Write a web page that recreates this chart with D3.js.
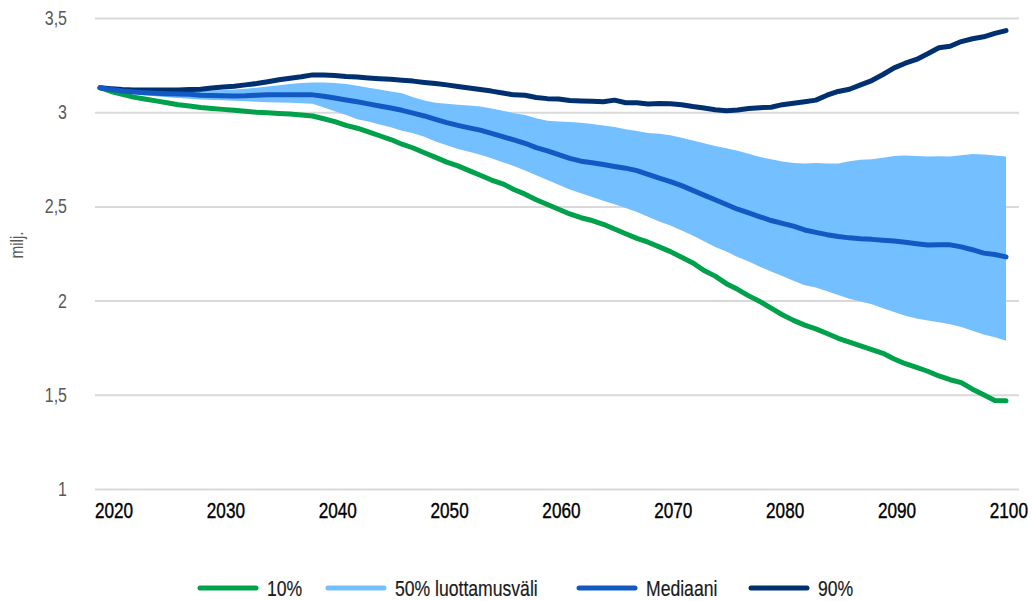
<!DOCTYPE html>
<html>
<head>
<meta charset="utf-8">
<script src="https://cdn.jsdelivr.net/npm/d3@7"></script>
<style>
  body { margin: 0; background: #fff; }
  svg { display: block; font-family: "Liberation Sans Narrow", "Liberation Sans", Arial, sans-serif; }
</style>
</head>
<body>
<svg id="chart" width="1035" height="601"></svg>
<script>
// vuodet 2019-2100
var years = d3.range(2019, 2101);

var p10 = [3.13, 3.11, 3.095, 3.08, 3.07, 3.06, 3.05, 3.04, 3.033, 3.025,
  3.02, 3.015, 3.01, 3.005, 3.0, 2.997, 2.993, 2.99, 2.985, 2.98,
  2.965, 2.95, 2.93, 2.915, 2.895, 2.875, 2.855, 2.83, 2.81, 2.785,
  2.76, 2.735, 2.715, 2.69, 2.665, 2.64, 2.62, 2.59, 2.565, 2.535,
  2.51, 2.485, 2.46, 2.44, 2.425, 2.405, 2.38, 2.355, 2.33, 2.31,
  2.285, 2.26, 2.23, 2.2, 2.16, 2.13, 2.09, 2.06, 2.025, 1.995,
  1.96, 1.925, 1.895, 1.87, 1.85, 1.825, 1.8, 1.78, 1.76, 1.74,
  1.72, 1.69, 1.665, 1.645, 1.625, 1.6, 1.58, 1.565, 1.53, 1.5,
  1.47, 1.468];

var p25 = [3.13, 3.115, 3.105, 3.096, 3.09, 3.085, 3.08, 3.075, 3.072, 3.068,
  3.065, 3.063, 3.061, 3.058, 3.055, 3.053, 3.051, 3.05, 3.048, 3.045,
  3.025, 3.005, 2.985, 2.963, 2.95, 2.935, 2.92, 2.902, 2.888, 2.87,
  2.845, 2.825, 2.805, 2.79, 2.774, 2.755, 2.735, 2.715, 2.69, 2.665,
  2.64, 2.615, 2.59, 2.57, 2.55, 2.53, 2.512, 2.492, 2.47, 2.445,
  2.42, 2.398, 2.372, 2.345, 2.315, 2.285, 2.26, 2.232, 2.208, 2.18,
  2.155, 2.13, 2.105, 2.082, 2.07, 2.05, 2.03, 2.01, 1.995, 1.98,
  1.96, 1.94, 1.92, 1.905, 1.895, 1.885, 1.875, 1.86, 1.84, 1.82,
  1.805, 1.787];

var p75 = [3.13, 3.125, 3.12, 3.116, 3.113, 3.111, 3.11, 3.11, 3.11, 3.112,
  3.115, 3.118, 3.12, 3.125, 3.13, 3.137, 3.143, 3.15, 3.155, 3.158,
  3.157, 3.155, 3.15, 3.14, 3.13, 3.12, 3.11, 3.1, 3.08, 3.062,
  3.05, 3.045, 3.04, 3.035, 3.03, 3.02, 3.008, 2.995, 2.985, 2.968,
  2.955, 2.95, 2.948, 2.944, 2.938, 2.93, 2.922, 2.91, 2.9, 2.89,
  2.885, 2.878, 2.865, 2.85, 2.835, 2.82, 2.808, 2.795, 2.78, 2.762,
  2.75, 2.738, 2.73, 2.728, 2.73, 2.728, 2.728, 2.74, 2.748, 2.75,
  2.758, 2.768, 2.77, 2.768, 2.765, 2.766, 2.765, 2.772, 2.778, 2.775,
  2.77, 2.765];

var median = [3.13, 3.12, 3.112, 3.107, 3.103, 3.1, 3.098, 3.096, 3.095, 3.09,
  3.088, 3.087, 3.086, 3.087, 3.09, 3.092, 3.092, 3.092, 3.092, 3.092,
  3.085, 3.075, 3.065, 3.055, 3.044, 3.033, 3.022, 3.01, 2.995, 2.98,
  2.962, 2.945, 2.93, 2.917, 2.905, 2.888, 2.87, 2.853, 2.835, 2.812,
  2.795, 2.775, 2.755, 2.74, 2.732, 2.722, 2.712, 2.703, 2.69, 2.67,
  2.65, 2.632, 2.61, 2.585, 2.56, 2.535, 2.51, 2.485, 2.465, 2.445,
  2.425, 2.41, 2.395, 2.375, 2.362, 2.35, 2.34, 2.333, 2.328, 2.325,
  2.32, 2.316, 2.31, 2.302, 2.295, 2.296, 2.296, 2.285, 2.27, 2.252,
  2.245, 2.232];

var p90 = [3.13, 3.125, 3.12, 3.118, 3.118, 3.118, 3.118, 3.118, 3.12, 3.122,
  3.128, 3.134, 3.138, 3.145, 3.152, 3.162, 3.172, 3.18, 3.188, 3.198,
  3.198, 3.195, 3.19, 3.187, 3.182, 3.178, 3.175, 3.17, 3.165, 3.158,
  3.152, 3.145, 3.136, 3.128, 3.12, 3.112, 3.102, 3.092, 3.09, 3.078,
  3.072, 3.07, 3.062, 3.06, 3.058, 3.055, 3.064, 3.05, 3.05, 3.044,
  3.046, 3.045, 3.04, 3.03, 3.022, 3.013, 3.008, 3.012, 3.02, 3.024,
  3.026, 3.04, 3.048, 3.056, 3.064, 3.09, 3.11, 3.122, 3.145, 3.168,
  3.2, 3.235, 3.26, 3.28, 3.31, 3.342, 3.35, 3.375, 3.39, 3.4,
  3.418, 3.433];

var yTicks = [1, 1.5, 2, 2.5, 3, 3.5];
var xTicks = [2020, 2030, 2040, 2050, 2060, 2070, 2080, 2090, 2100];

var legendItems = [
  {label: "10%", color: "#00a14b"},
  {label: "50% luottamusväli", color: "#74bfff"},
  {label: "Mediaani", color: "#1259c3"},
  {label: "90%", color: "#00306f"}
];

var svg = d3.select("#chart");
var gridLeft = 95, gridRight = 1019;
var squeeze = 0.8; // kapea fontti puuttuu, puristetaan teksti vaakasuunnassa

var x = d3.scaleLinear().domain([2019, 2100]).range([100, 1006]);
var y = d3.scaleLinear().domain([1, 3.5]).range([489, 18]);

// y-akseli ja apuviivat
var yAxis = svg.append("g")
  .attr("transform", "translate(" + gridLeft + ",0)")
  .call(d3.axisLeft(y)
    .tickValues(yTicks)
    .tickSize(-(gridRight - gridLeft))
    .tickPadding(28)
    .tickFormat(function(d) { return String(d).replace(".", ","); }));
yAxis.select(".domain").remove();
yAxis.selectAll(".tick line").attr("stroke", "#d9d9d9").attr("stroke-width", 2);
yAxis.selectAll(".tick text")
  .attr("x", -28 / squeeze)
  .attr("transform", "scale(" + squeeze + ",1)")
  .attr("fill", "#595959")
  .style("font-size", "20px")
  .style("font-family", null);

// x-akseli
var xAxis = svg.append("g")
  .attr("transform", "translate(0,489)")
  .call(d3.axisBottom(x).tickValues(xTicks).tickSize(0).tickPadding(13).tickFormat(d3.format("d")));
xAxis.select(".domain").remove();
xAxis.selectAll(".tick text")
  .attr("dx", 3)
  .attr("transform", "scale(0.78,1)")
  .attr("fill", "#000")
  .attr("stroke", "#000")
  .attr("stroke-width", 0.4)
  .style("font-size", "22px")
  .style("font-family", null);

svg.append("text")
  .attr("transform", "translate(23,245) rotate(-90) scale(0.85,1)")
  .attr("text-anchor", "middle")
  .attr("fill", "#595959")
  .style("font-size", "18px")
  .text("milj.");

var idx = d3.range(years.length);

var band = d3.area()
  .x(function(i) { return x(years[i]); })
  .y0(function(i) { return y(p25[i]); })
  .y1(function(i) { return y(p75[i]); });

svg.append("path")
  .datum(idx)
  .attr("d", band)
  .attr("fill", "#74bfff");

function drawLine(vals, color) {
  var line = d3.line()
    .x(function(i) { return x(years[i]); })
    .y(function(i) { return y(vals[i]); });
  svg.append("path")
    .datum(idx)
    .attr("d", line)
    .attr("fill", "none")
    .attr("stroke", color)
    .attr("stroke-width", 5)
    .attr("stroke-linecap", "round")
    .attr("stroke-linejoin", "round");
}

drawLine(p90, "#00306f");
drawLine(p10, "#00a14b");
drawLine(median, "#1259c3");

// selite
var legendX = [200, 328, 579, 751];
var leg = svg.append("g").attr("transform", "translate(0,588)");
legendItems.forEach(function(d, i) {
  leg.append("line")
    .attr("x1", legendX[i]).attr("x2", legendX[i] + 56)
    .attr("y1", 0).attr("y2", 0)
    .attr("stroke", d.color)
    .attr("stroke-width", 5)
    .attr("stroke-linecap", "round");
  leg.append("text")
    .attr("transform", "translate(" + (legendX[i] + 67) + ",0) scale(0.8,1)")
    .attr("dy", "0.36em")
    .attr("fill", "#1a1a1a")
    .attr("stroke", "#1a1a1a")
    .attr("stroke-width", 0.2)
    .style("font-size", "22px")
    .text(d.label);
});
</script>
</body>
</html>
